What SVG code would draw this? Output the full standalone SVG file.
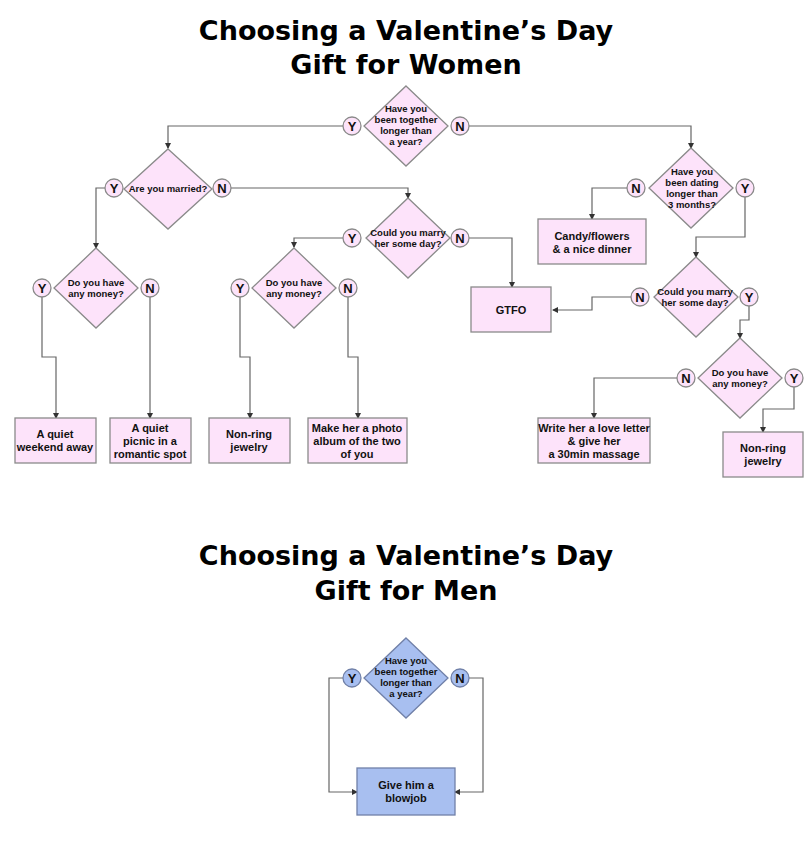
<svg xmlns="http://www.w3.org/2000/svg" width="811" height="861" viewBox="0 0 811 861">
<defs>
<marker id="ar" viewBox="0 0 6 6" refX="5" refY="3" markerWidth="5" markerHeight="5" orient="auto"><path d="M0,0L6,3L0,6z" fill="#333"/></marker>
<style>
.t{font-family:"DejaVu Sans",sans-serif;font-weight:bold;font-size:27px;text-anchor:middle;fill:#000}
.p{fill:#fde3fa;stroke:#8a8a8a;stroke-width:1.3}
.b{fill:#a8bff0;stroke:#7080a8;stroke-width:1.3}
.l{font-family:"Liberation Sans",Arial,sans-serif;font-weight:bold;font-size:11px;text-anchor:middle;fill:#111}
.s{font-size:9.5px}
.c{font-family:"Liberation Sans",Arial,sans-serif;font-weight:bold;font-size:13px;text-anchor:middle;fill:#111}
#conn path{fill:none;stroke:#666;stroke-width:1.2;marker-end:url(#ar)}
</style>
</defs>
<rect width="811" height="861" fill="#fff"/>
<text class="t" x="406" y="40">Choosing a Valentine’s Day</text>
<text class="t" x="406" y="74">Gift for Women</text>
<text class="t" x="406" y="565">Choosing a Valentine’s Day</text>
<text class="t" x="406" y="600">Gift for Men</text>
<g id="conn">
<path d="M343,126H168V148"/>
<path d="M469,126H691V148"/>
<path d="M231,188H408V198"/>
<path d="M105,188H96V248"/>
<path d="M343,238H294V247"/>
<path d="M469,238H512V287"/>
<path d="M42,297V357H56V418"/>
<path d="M150,297V418"/>
<path d="M240,297V357H250V418"/>
<path d="M348,297V357H358V418"/>
<path d="M627,188H592V219"/>
<path d="M745,197V237H696V257"/>
<path d="M631,297H592V310H553"/>
<path d="M749,306V320H740V338"/>
<path d="M677,378H594V418"/>
<path d="M794,387V409H763V432"/>
<path d="M343,678H329V792H357"/>
<path d="M469,678H483V792H455"/>
</g>
<g id="d1"><path class="p" d="M406,86L448,126L406,166L364,126z"/><text class="l s" x="406" y="112">Have you</text><text class="l s" x="406" y="123">been together</text><text class="l s" x="406" y="134">longer than</text><text class="l s" x="406" y="145">a year?</text>
<circle class="p" cx="352" cy="126" r="9"/><text class="c" x="352" y="131">Y</text><circle class="p" cx="460" cy="126" r="9"/><text class="c" x="460" y="131">N</text></g>
<g id="d2"><path class="p" d="M168,149L212,189L168,229L124,189z"/><text class="l s" x="168" y="192">Are you married?</text>
<circle class="p" cx="114" cy="188" r="9"/><text class="c" x="114" y="193">Y</text><circle class="p" cx="222" cy="188" r="9"/><text class="c" x="222" y="193">N</text></g>
<g id="d3"><path class="p" d="M408,198L450,238L408,278L366,238z"/><text class="l s" x="408" y="236">Could you marry</text><text class="l s" x="408" y="247">her some day?</text>
<circle class="p" cx="352" cy="238" r="9"/><text class="c" x="352" y="243">Y</text><circle class="p" cx="460" cy="238" r="9"/><text class="c" x="460" y="243">N</text></g>
<g id="d4"><path class="p" d="M96,248L138,288L96,328L54,288z"/><text class="l s" x="96" y="286">Do you have</text><text class="l s" x="96" y="297">any money?</text>
<circle class="p" cx="42" cy="288" r="9"/><text class="c" x="42" y="293">Y</text><circle class="p" cx="150" cy="288" r="9"/><text class="c" x="150" y="293">N</text></g>
<g id="d5"><path class="p" d="M294,248L336,288L294,328L252,288z"/><text class="l s" x="294" y="286">Do you have</text><text class="l s" x="294" y="297">any money?</text>
<circle class="p" cx="240" cy="288" r="9"/><text class="c" x="240" y="293">Y</text><circle class="p" cx="348" cy="288" r="9"/><text class="c" x="348" y="293">N</text></g>
<g id="d6"><path class="p" d="M691,148L733,188L691,228L649,188z"/><text class="l s" x="692" y="175">Have you</text><text class="l s" x="692" y="186">been dating</text><text class="l s" x="692" y="197">longer than</text><text class="l s" x="692" y="208">3 months?</text>
<circle class="p" cx="636" cy="188" r="9"/><text class="c" x="636" y="193">N</text><circle class="p" cx="745" cy="188" r="9"/><text class="c" x="745" y="193">Y</text></g>
<g id="d7"><path class="p" d="M696,257L738,297L696,337L654,297z"/><text class="l s" x="695" y="295">Could you marry</text><text class="l s" x="695" y="306">her some day?</text>
<circle class="p" cx="640" cy="297" r="9"/><text class="c" x="640" y="302">N</text><circle class="p" cx="749" cy="297" r="9"/><text class="c" x="749" y="302">Y</text></g>
<g id="d8"><path class="p" d="M740,338L782,378L740,418L698,378z"/><text class="l s" x="740" y="376">Do you have</text><text class="l s" x="740" y="387">any money?</text>
<circle class="p" cx="686" cy="378" r="9"/><text class="c" x="686" y="383">N</text><circle class="p" cx="794" cy="378" r="9"/><text class="c" x="794" y="383">Y</text></g>
<g id="b1"><rect class="p" x="15" y="418" width="81" height="45"/><text class="l" x="55" y="438">A quiet</text><text class="l" x="55" y="451">weekend away</text></g>
<g id="b2"><rect class="p" x="110" y="418" width="81" height="45"/><text class="l" x="150" y="432">A quiet</text><text class="l" x="150" y="445">picnic in a</text><text class="l" x="150" y="458">romantic spot</text></g>
<g id="b3"><rect class="p" x="209" y="418" width="81" height="45"/><text class="l" x="249" y="438">Non-ring</text><text class="l" x="249" y="451">jewelry</text></g>
<g id="b4"><rect class="p" x="308" y="418" width="99" height="45"/><text class="l" x="357" y="432">Make her a photo</text><text class="l" x="357" y="445">album of the two</text><text class="l" x="357" y="458">of you</text></g>
<g id="b5"><rect class="p" x="471" y="287" width="80" height="45"/><text class="l" x="511" y="314">GTFO</text></g>
<g id="b6"><rect class="p" x="538" y="219" width="108" height="45"/><text class="l" x="592" y="240">Candy/flowers</text><text class="l" x="592" y="253">&amp; a nice dinner</text></g>
<g id="b7"><rect class="p" x="538" y="418" width="112" height="45"/><text class="l" x="594" y="432">Write her a love letter</text><text class="l" x="594" y="445">&amp; give her</text><text class="l" x="594" y="458">a 30min massage</text></g>
<g id="b8"><rect class="p" x="723" y="432" width="80" height="45"/><text class="l" x="763" y="452">Non-ring</text><text class="l" x="763" y="465">jewelry</text></g>
<g id="m1"><path class="b" d="M406,638L448,678L406,718L364,678z"/><text class="l s" x="406" y="664">Have you</text><text class="l s" x="406" y="675">been together</text><text class="l s" x="406" y="686">longer than</text><text class="l s" x="406" y="697">a year?</text>
<circle class="b" cx="352" cy="678" r="9"/><text class="c" x="352" y="683">Y</text><circle class="b" cx="460" cy="678" r="9"/><text class="c" x="460" y="683">N</text></g>
<g id="m2"><rect class="b" x="357" y="768" width="98" height="47"/><text class="l" x="406" y="789">Give him a</text><text class="l" x="406" y="802">blowjob</text></g>
</svg>
